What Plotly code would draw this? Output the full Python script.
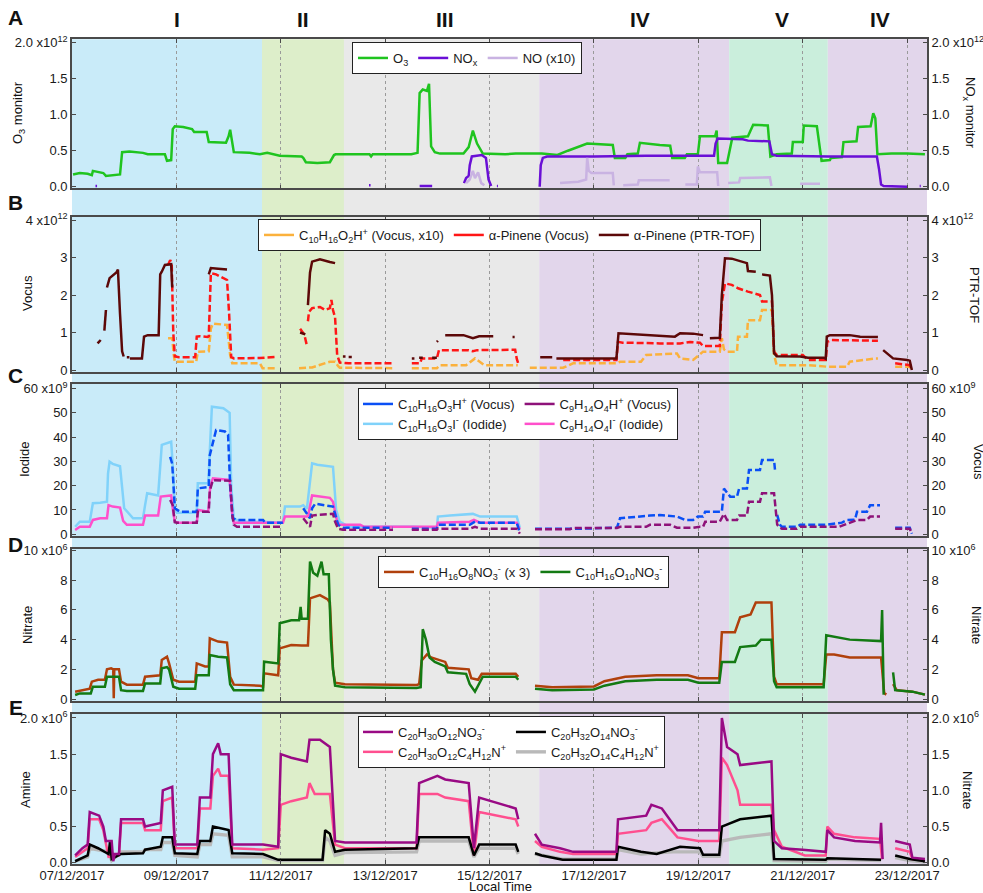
import pandas as pd
import plotly.graph_objects as go

START = pd.Timestamp("2017-12-07")
DAY_END = 16.38

# ---------------- phases (days since 07/12/2017 00:00) ----------------
phase_edges = [0.0, 3.64, 5.21, 8.95, 12.59, 14.48, 16.44]
phase_colors = ["#c9ebf9", "#ddeeca", "#e9e9e9", "#e2d6eb", "#caeedc", "#e2d6eb"]
phase_names = ["I", "II", "III", "IV", "V", "IV"]
phase_label_days = [2.01, 4.43, 7.15, 10.88, 13.60, 15.48]

# ---------------- A: ozone / NOx monitor (x10^12) ----------------
o3 = [(0.02, 0.17), (0.15, 0.19), (0.30, 0.18), (0.38, 0.16), (0.40, 0.22), (0.55, 0.20), (0.60, 0.19),
      (0.65, 0.15), (0.88, 0.16), (0.92, 0.17), (0.96, 0.48), (1.10, 0.49), (1.36, 0.47), (1.45, 0.45),
      (1.78, 0.45), (1.82, 0.36), (1.90, 0.37), (1.93, 0.80), (1.97, 0.84), (2.13, 0.83), (2.30, 0.80),
      (2.34, 0.76), (2.58, 0.76), (2.62, 0.62), (2.95, 0.61), (3.00, 0.70), (3.03, 0.79), (3.07, 0.62),
      (3.10, 0.48), (3.40, 0.47), (3.60, 0.45), (3.74, 0.47), (3.90, 0.45), (3.98, 0.43), (4.40, 0.42),
      (4.43, 0.40), (4.48, 0.34), (4.70, 0.33), (4.94, 0.34), (5.02, 0.44), (5.05, 0.45), (5.70, 0.45),
      (5.73, 0.42), (5.76, 0.45), (6.50, 0.45), (6.62, 0.47), (6.66, 1.30), (6.72, 1.35), (6.80, 1.33),
      (6.84, 1.43), (6.88, 0.56), (6.95, 0.48), (7.05, 0.46), (7.50, 0.46), (7.60, 0.55), (7.68, 0.78),
      (7.76, 0.60), (7.87, 0.46), (8.30, 0.45), (8.50, 0.46), (9.00, 0.46), (9.30, 0.44), (9.50, 0.50),
      (9.70, 0.56), (9.87, 0.60), (10.36, 0.58), (10.40, 0.40), (10.60, 0.40), (10.64, 0.45), (10.84, 0.46),
      (10.88, 0.61), (11.26, 0.58), (11.46, 0.57), (11.50, 0.40), (11.74, 0.40), (11.78, 0.45), (11.99, 0.45),
      (12.03, 0.70), (12.32, 0.70), (12.35, 0.78), (12.38, 0.33), (12.55, 0.33), (12.59, 0.46), (12.65, 0.68),
      (12.95, 0.70), (13.05, 0.86), (13.33, 0.85), (13.38, 0.42), (13.50, 0.45), (13.79, 0.46), (13.81, 0.62),
      (14.00, 0.62), (14.02, 0.85), (14.27, 0.84), (14.36, 0.36), (14.52, 0.37), (14.54, 0.40), (14.75, 0.41),
      (14.78, 0.62), (15.03, 0.63), (15.06, 0.83), (15.30, 0.84), (15.35, 1.02), (15.39, 0.95), (15.43, 0.45),
      (15.70, 0.46), (16.00, 0.46), (16.34, 0.45)]

nox = [(0.45, 0.01), (0.48, 0.01), None, (5.69, 0.02), (5.72, 0.02), None, (6.66, 0.01), (6.90, 0.01), None,
       (7.51, 0.05), (7.55, 0.12), (7.60, 0.15), (7.62, 0.30), (7.66, 0.42), (7.75, 0.43), (7.85, 0.44),
       (7.93, 0.40), (7.98, 0.10), (8.03, 0.01), None, (8.14, 0.01), (8.16, 0.01), None,
       (8.96, 0.00), (8.98, 0.30), (9.02, 0.40), (9.10, 0.42), (10.0, 0.42), (11.0, 0.43), (12.30, 0.43),
       (12.33, 0.60), (12.37, 0.67), (12.85, 0.66), (12.95, 0.64), (13.36, 0.63), (13.41, 0.45), (13.50, 0.43),
       (14.50, 0.42), (15.42, 0.42), (15.46, 0.25), (15.50, 0.03), (15.55, 0.01), (16.00, 0.00), None,
       (16.24, 0.01), (16.26, 0.01)]

no_x10 = [(7.55, 0.05), (7.62, 0.10), (7.68, 0.22), (7.72, 0.12), (7.78, 0.20), (7.84, 0.05), (7.90, 0.02), None,
          (9.35, 0.05), (9.50, 0.06), (9.70, 0.07), (9.85, 0.10), (9.87, 0.40), (9.90, 0.22), (9.95, 0.19),
          (10.36, 0.19), (10.38, 0.02), None, (10.56, 0.02), (10.84, 0.03), (10.86, 0.09), (11.26, 0.09),
          (11.45, 0.09), None, (11.75, 0.03), (11.97, 0.03), (11.99, 0.28), (12.03, 0.20), (12.36, 0.20),
          (12.38, 0.01), None, (12.57, 0.05), (12.78, 0.06), (12.80, 0.12), (13.37, 0.13), (13.40, 0.01), None,
          (13.95, 0.04), (14.33, 0.04)]

# ---------------- B: monoterpenes (x10^12) ----------------
c10h16o2 = [(1.84, 0.85), (1.92, 0.85), (1.95, 0.40), (1.97, 0.22), (2.38, 0.22), (2.41, 0.49), (2.62, 0.50),
            (2.66, 1.10), (2.70, 1.24), (2.97, 1.20), (3.03, 0.40), (3.07, 0.18), (3.60, 0.18), (3.65, 0.05),
            (3.91, 0.05), None, (4.35, 0.05), (4.60, 0.07), (4.94, 0.22), (5.04, 0.22), (5.10, 0.10),
            (5.13, 0.06), (6.15, 0.05), None, (6.51, 0.05), (6.99, 0.05), (7.05, 0.13), (7.55, 0.13),
            (7.72, 0.31), (7.90, 0.13), (8.54, 0.13), None, (8.77, 0.06), (9.41, 0.06), (9.60, 0.18),
            (10.44, 0.18), (10.50, 0.22), (10.90, 0.22), (11.00, 0.40), (11.26, 0.42), (11.59, 0.44),
            (11.65, 0.31), (11.90, 0.27), (12.09, 0.49), (12.41, 0.49), (12.45, 0.85), (12.49, 0.55),
            (12.55, 0.49), (12.74, 0.49), (12.76, 0.89), (12.93, 0.89), (12.95, 1.33), (13.18, 1.33),
            (13.22, 1.60), (13.41, 1.60), (13.45, 0.40), (13.50, 0.13), (14.10, 0.13), (14.45, 0.09),
            (14.85, 0.09), (14.90, 0.22), (15.40, 0.31), (15.44, 0.31), None, (15.77, 0.09), (16.05, 0.09),
            (16.09, 0.00)]

apinene_vocus = [(1.84, 2.80), (1.88, 2.93), (1.91, 2.85), (1.94, 1.00), (1.97, 0.36), (2.05, 0.34), (2.36, 0.34),
                 (2.39, 0.89), (2.45, 0.90), (2.60, 0.88), (2.62, 0.90), (2.64, 2.20), (2.66, 2.58), (2.76, 2.55),
                 (2.97, 2.40), (3.01, 1.50), (3.05, 0.35), (3.10, 0.31), (3.60, 0.32), (3.91, 0.35), None,
                 (4.37, 1.10), (4.45, 0.95), (4.50, 0.65), None, (4.52, 1.30), (4.54, 1.55), (4.60, 1.65),
                 (4.75, 1.68), (4.85, 1.60), (4.94, 1.65), (4.97, 1.87), (5.00, 1.60), (5.04, 1.40), (5.08, 0.40),
                 (5.13, 0.20), (5.30, 0.18), (6.15, 0.18), None, (6.51, 0.18), (6.67, 0.18), (6.70, 0.31),
                 (6.99, 0.31), (7.03, 0.53), (7.60, 0.53), (7.68, 0.50), (7.76, 0.53), (8.49, 0.54), (8.52, 0.30),
                 (8.56, 0.13), None, (9.41, 0.27), (10.43, 0.27), (10.46, 0.75), (10.55, 0.73), (11.26, 0.71),
                 (11.65, 0.71), (11.84, 0.75), (12.03, 0.73), (12.09, 0.64), (12.41, 0.64), (12.45, 1.80),
                 (12.51, 2.31), (12.64, 2.27), (12.76, 2.18), (12.95, 2.09), (13.18, 2.00), (13.22, 1.83),
                 (13.41, 1.83), (13.45, 0.49), (13.50, 0.40), (14.00, 0.40), (14.10, 0.27), (14.44, 0.27),
                 (14.47, 0.75), (14.55, 0.80), (15.44, 0.78), None, (15.77, 0.18), (16.05, 0.13), (16.09, 0.00)]

apinene_ptr = [(0.49, 0.71), (0.55, 0.80), None, (0.62, 1.05), (0.65, 1.60), None, (0.67, 2.20), (0.72, 2.45),
               (0.85, 2.60), (0.88, 2.68), (0.92, 1.50), (0.96, 0.50), (0.99, 0.36), None, (1.05, 0.34),
               (1.10, 0.34), None, (1.11, 0.31), (1.34, 0.31), (1.38, 0.89), (1.45, 0.93), (1.66, 0.93),
               (1.69, 2.55), (1.72, 2.62), (1.78, 2.80), (1.90, 2.82), (1.92, 2.20), None, (2.62, 2.55),
               (2.66, 2.72), (2.80, 2.70), (2.97, 2.68), None, (4.37, 1.00), (4.47, 0.95), None, (4.52, 1.73),
               (4.56, 2.60), (4.60, 2.89), (4.75, 2.95), (4.94, 2.88), (5.04, 2.85), None, (5.19, 0.36),
               (5.24, 0.36), None, (5.30, 0.35), (5.36, 0.35), None, (6.51, 0.31), (6.56, 0.31), None,
               (6.65, 0.33), (6.72, 0.33), None, (6.90, 0.33), (6.99, 0.33), None, (6.99, 0.75), (7.01, 0.78),
               None, (7.15, 0.93), (7.50, 0.93), (7.68, 0.85), (7.80, 0.90), (8.07, 0.90), None, (8.44, 0.88),
               (8.48, 0.88), None, (8.97, 0.34), (9.20, 0.34), None, (9.28, 0.31), (9.50, 0.31), (10.00, 0.30),
               (10.43, 0.31), (10.47, 0.98), (10.60, 0.97), (11.00, 0.93), (11.26, 0.92), (11.55, 0.89),
               (11.65, 0.98), (11.90, 0.97), (12.09, 0.93), None, (12.22, 0.85), (12.41, 0.86), (12.45, 2.00),
               (12.51, 2.98), (12.64, 2.97), (12.80, 2.90), (12.93, 2.85), (12.95, 2.64), (13.10, 2.62), None,
               (13.22, 2.55), (13.37, 2.52), (13.41, 2.00), (13.45, 0.45), (13.50, 0.37), (13.95, 0.36),
               (14.10, 0.33), (14.40, 0.33), (14.44, 0.30), (14.46, 0.89), (14.52, 0.93), (14.90, 0.93),
               (15.10, 0.89), (15.44, 0.88), None, (15.54, 0.53), (15.65, 0.40), (15.73, 0.31), (16.00, 0.27),
               (16.05, 0.25), (16.09, 0.00)]

# ---------------- C: oxidation products (x10^9) ----------------
c10h16o3_iodide = [(0.06, 3.1), (0.15, 5.2), (0.34, 5.2), (0.40, 12.8), (0.54, 13.0), (0.67, 13.4), (0.69, 25.0),
                   (0.72, 29.9), (0.78, 29.0), (0.92, 28.0), (0.98, 15.0), (1.00, 10.7), (1.17, 6.6), (1.36, 6.6),
                   (1.40, 12.0), (1.44, 16.9), (1.65, 16.0), (1.69, 28.0), (1.72, 36.8), (1.90, 38.1), (1.94, 25.0),
                   (1.97, 10.0), (2.01, 8.9), (2.39, 8.9), (2.41, 21.0), (2.61, 21.0), (2.65, 40.0), (2.68, 52.5),
                   (2.90, 51.9), (3.02, 50.0), (3.05, 20.0), (3.10, 6.6), (3.22, 5.2), (3.66, 5.2), (4.04, 4.8),
                   (4.08, 11.4), (4.37, 11.4), (4.43, 12.0), (4.50, 10.5), (4.60, 29.2), (4.70, 28.6), (4.94, 28.0),
                   (5.00, 27.8), (5.06, 10.0), (5.13, 5.2), (5.30, 3.1), (6.53, 3.1), (6.99, 2.7), (7.01, 7.3),
                   (7.24, 7.7), (7.68, 8.4), (7.82, 7.3), (8.52, 7.3), (8.58, 2.7)]

c9h14o4_iodide = [(0.06, 1.8), (0.15, 3.1), (0.34, 3.1), (0.40, 5.9), (0.54, 6.6), (0.67, 6.6), (0.70, 12.0),
                  (0.78, 11.4), (0.92, 11.0), (0.98, 5.5), (1.05, 3.9), (1.36, 3.9), (1.40, 7.7), (1.65, 7.7),
                  (1.70, 15.5), (1.90, 16.0), (1.94, 9.0), (1.97, 5.2), (2.05, 4.8), (2.39, 4.8), (2.42, 10.0),
                  (2.61, 9.3), (2.65, 20.0), (2.70, 23.0), (3.02, 22.4), (3.07, 8.0), (3.10, 4.8), (4.04, 4.8),
                  (4.08, 7.3), (4.52, 7.3), (4.60, 16.0), (4.94, 15.0), (5.00, 13.4), (5.08, 5.2), (5.13, 3.9),
                  (5.52, 3.9), (5.60, 3.1), (6.99, 3.1), (7.01, 4.8), (7.62, 5.2), (7.70, 5.9), (7.82, 4.8),
                  (8.52, 4.8), (8.58, 2.0)]

c10h16o3_vocus = [(1.88, 31.9), (1.92, 29.0), (1.97, 10.7), (2.07, 9.3), (2.39, 9.3), (2.41, 18.9), (2.62, 19.5),
                  (2.64, 32.6), (2.76, 42.9), (2.93, 42.3), (2.99, 41.0), (3.03, 20.0), (3.08, 6.6), (3.16, 5.9),
                  (3.66, 5.9), (3.70, 4.8), (4.04, 4.8), None, (4.43, 10.7), (4.56, 6.6), (4.60, 10.7),
                  (4.66, 12.6), (5.00, 11.4), (5.10, 3.9), (5.19, 2.7), (6.15, 2.7), None, (6.51, 2.3), (6.99, 2.3),
                  (7.01, 3.9), (7.62, 3.9), (7.72, 5.2), (7.82, 4.8), (8.52, 4.8), (8.58, 0.5), None,
                  (8.87, 2.3), (9.73, 2.3), (10.44, 2.7), (10.50, 6.6), (11.07, 7.7), (11.26, 7.9), (11.59, 7.3),
                  (11.74, 5.9), (11.90, 5.9), (11.99, 7.3), (12.09, 7.3), (12.13, 9.3), (12.45, 9.3),
                  (12.49, 18.8), (12.61, 15.5), (12.74, 15.5), (12.78, 18.8), (12.93, 18.8), (12.97, 26.5),
                  (13.18, 26.5), (13.22, 30.6), (13.45, 30.6), (13.47, 26.0), None, (13.51, 8.0), (13.56, 4.0),
                  (13.60, 3.1), (13.89, 3.1), (13.95, 3.9), (14.44, 3.9), (14.75, 4.8), (14.85, 5.9), (15.00, 6.0),
                  (15.04, 9.3), (15.23, 9.3), (15.29, 12.0), (15.48, 12.0), None, (15.77, 2.7), (16.05, 2.7),
                  (16.09, 0.3)]

c9h14o4_vocus = [(1.88, 14.1), (1.93, 12.0), (1.97, 5.0), (2.01, 4.8), (2.39, 4.8), (2.41, 9.3), (2.62, 9.3),
                 (2.64, 18.0), (2.70, 22.3), (3.03, 22.0), (3.07, 8.0), (3.10, 3.9), (3.16, 3.1), (4.04, 3.1), None,
                 (4.43, 6.6), (4.56, 3.1), (4.60, 7.7), (4.70, 8.0), (5.00, 8.4), (5.04, 5.2), (5.10, 2.3),
                 (5.19, 1.9), (6.15, 1.9), None, (6.51, 1.9), (6.99, 1.9), (7.01, 2.3), (7.62, 2.3), (7.72, 3.1),
                 (7.82, 2.3), (8.52, 2.3), (8.58, 0.3), None, (8.87, 2.1), (9.54, 2.1), (9.60, 2.6), (10.44, 2.6),
                 (10.50, 3.1), (11.00, 3.1), (11.07, 3.9), (11.46, 3.9), (11.59, 2.7), (11.90, 2.7), (12.03, 3.1),
                 (12.09, 3.1), (12.13, 5.2), (12.41, 5.2), (12.49, 8.4), (12.55, 5.9), (12.74, 5.9), (12.78, 7.7),
                 (12.93, 7.7), (12.97, 13.4), (13.18, 13.4), (13.22, 16.9), (13.45, 16.9), (13.51, 4.0),
                 (13.56, 2.7), (13.60, 2.3), (13.89, 2.3), (13.95, 3.1), (14.70, 3.1), (14.81, 3.9), (15.04, 5.9),
                 (15.23, 5.9), (15.29, 7.3), (15.48, 7.3), None, (15.77, 2.3), (16.05, 2.3), (16.09, 0.3)]

# ---------------- D: nitrate-CIMS monomers (x10^6) ----------------
c10h16o8_no3_x3 = [(0.06, 0.49), (0.20, 0.60), (0.34, 0.70), (0.38, 1.17), (0.50, 1.30), (0.63, 1.30), (0.67, 2.00),
                   (0.75, 2.07), (0.79, 2.00), (0.80, 0.05), (0.81, 2.00), (0.90, 2.00), (0.94, 1.17), (1.05, 0.97),
                   (1.36, 0.97), (1.40, 1.50), (1.60, 1.60), (1.69, 1.60), (1.72, 2.63), (1.82, 2.85), (1.86, 2.40),
                   (1.94, 1.30), (2.05, 1.17), (2.36, 1.17), (2.39, 2.40), (2.55, 2.20), (2.62, 2.20), (2.64, 4.09),
                   (2.80, 3.87), (2.97, 3.80), (3.03, 1.50), (3.10, 0.97), (3.60, 0.90), (3.66, 0.85), (3.68, 1.73),
                   (3.90, 1.60), (3.95, 1.60), (3.98, 3.41), (4.20, 3.64), (4.40, 3.60), (4.52, 3.60), (4.56, 6.78),
                   (4.75, 7.00), (4.90, 6.70), (4.94, 6.50), (5.00, 2.00), (5.04, 1.10), (5.23, 1.00), (6.60, 0.95),
                   (6.65, 1.00), (6.70, 2.60), (6.80, 3.00), (6.88, 2.80), (7.15, 2.50), (7.20, 2.10), (7.60, 2.00),
                   (7.65, 1.40), (7.78, 1.30), (7.85, 1.70), (8.50, 1.70), (8.55, 1.50), None, (8.87, 0.90),
                   (9.20, 0.80), (10.00, 0.85), (10.20, 1.20), (10.60, 1.50), (11.20, 1.60), (11.80, 1.60),
                   (12.00, 1.40), (12.40, 1.40), (12.45, 4.50), (12.70, 4.50), (12.80, 5.50), (13.00, 5.70),
                   (13.10, 6.50), (13.40, 6.50), (13.45, 1.50), (13.50, 1.00), (14.40, 1.00), (14.45, 3.00),
                   (14.60, 3.00), (14.90, 2.80), (15.50, 2.80), (15.56, 0.40), (15.60, 0.30), None, (15.73, 1.00),
                   (15.80, 0.60), (16.10, 0.50), (16.34, 0.30)]

c10h16o10_no3 = [(0.06, 0.27), (0.15, 0.38), (0.36, 0.38), (0.40, 0.83), (0.63, 0.83), (0.67, 1.50), (0.90, 1.50),
                 (0.94, 0.60), (1.05, 0.55), (1.36, 0.55), (1.40, 1.05), (1.69, 1.05), (1.72, 2.07), (1.82, 2.15),
                 (1.86, 2.00), (1.94, 0.83), (2.05, 0.70), (2.36, 0.70), (2.39, 1.60), (2.62, 1.60), (2.64, 2.96),
                 (2.80, 2.85), (2.97, 2.80), (3.03, 1.00), (3.10, 0.60), (3.66, 0.60), (3.68, 2.51), (3.95, 2.40),
                 (3.98, 5.10), (4.20, 5.30), (4.35, 5.30), (4.38, 6.20), (4.40, 5.40), (4.52, 5.40), (4.56, 9.25),
                 (4.62, 8.50), (4.70, 8.30), (4.78, 9.25), (4.82, 8.40), (4.92, 8.40), (4.96, 4.00), (5.00, 2.00),
                 (5.04, 0.90), (5.23, 0.80), (6.60, 0.75), (6.68, 0.80), (6.72, 4.70), (6.78, 4.00), (6.85, 2.80),
                 (6.95, 2.50), (7.15, 2.20), (7.20, 1.80), (7.55, 1.70), (7.62, 1.00), (7.72, 0.50), (7.80, 1.00),
                 (7.87, 1.50), (8.50, 1.50), (8.55, 1.30), None, (8.87, 0.70), (9.20, 0.60), (10.00, 0.65),
                 (10.20, 0.90), (10.60, 1.20), (11.20, 1.30), (11.80, 1.30), (12.00, 1.10), (12.40, 1.10),
                 (12.45, 2.50), (12.70, 2.50), (12.80, 3.50), (13.10, 3.60), (13.20, 4.00), (13.40, 4.00),
                 (13.45, 1.20), (13.50, 0.80), (14.40, 0.80), (14.45, 4.30), (14.60, 4.20), (14.90, 4.00),
                 (15.50, 3.90), (15.52, 6.00), (15.55, 0.30), None, (15.73, 1.80), (15.77, 0.60), (16.10, 0.50),
                 (16.34, 0.30)]

# ---------------- E: dimers, nitrate and amine CIMS (x10^6) ----------------
c20h30o12_no3 = [(0.06, 0.10), (0.20, 0.20), (0.30, 0.25), (0.34, 0.70), (0.52, 0.65), (0.60, 0.50), (0.65, 0.30),
                 (0.76, 0.30), (0.79, 0.02), (0.82, 0.12), (0.90, 0.12), (0.94, 0.60), (1.36, 0.60), (1.40, 0.50),
                 (1.70, 0.55), (1.74, 1.00), (1.92, 1.05), (1.97, 0.25), (2.40, 0.25), (2.45, 0.90), (2.65, 0.90),
                 (2.70, 1.50), (2.80, 1.65), (2.85, 1.50), (3.00, 1.50), (3.07, 0.25), (3.66, 0.25), (3.95, 0.22),
                 (4.00, 1.50), (4.20, 1.45), (4.50, 1.40), (4.55, 1.70), (4.75, 1.70), (4.94, 1.60), (5.04, 0.30),
                 (5.23, 0.28), (6.60, 0.28), (6.65, 1.10), (7.00, 1.20), (7.15, 1.15), (7.60, 1.10), (7.70, 0.20),
                 (7.80, 0.90), (8.50, 0.75), (8.55, 0.60), None, (8.87, 0.40), (9.00, 0.25), (9.35, 0.20),
                 (9.60, 0.15), (10.43, 0.15), (10.46, 0.60), (11.00, 0.65), (11.10, 0.80), (11.30, 0.75),
                 (11.60, 0.45), (12.40, 0.45), (12.45, 2.00), (12.55, 1.60), (12.75, 1.50), (12.80, 1.35),
                 (13.40, 1.40), (13.45, 0.30), (13.60, 0.20), (14.00, 0.18), (14.44, 0.15), (14.47, 0.45),
                 (14.60, 0.35), (15.00, 0.30), (15.48, 0.28), (15.50, 0.55), (15.53, 0.05), None, (15.77, 0.30),
                 (16.05, 0.25), (16.10, 0.07), (16.34, 0.05)]

c20h30o12_amine = [(0.06, 0.08), (0.20, 0.15), (0.30, 0.20), (0.34, 0.60), (0.52, 0.60), (0.60, 0.45), (0.65, 0.25),
                   (0.70, 0.08), (0.90, 0.10), (0.94, 0.55), (1.36, 0.55), (1.40, 0.45), (1.70, 0.45), (1.74, 0.85),
                   (1.92, 0.90), (1.97, 0.20), (2.40, 0.20), (2.45, 0.75), (2.65, 0.75), (2.70, 1.20), (2.80, 1.30),
                   (2.85, 1.20), (3.00, 1.20), (3.07, 0.20), (3.66, 0.18), (3.95, 0.20), (4.00, 0.80), (4.20, 0.85),
                   (4.50, 0.90), (4.55, 1.10), (4.65, 0.95), (4.94, 0.95), (5.04, 0.25), (5.23, 0.20), (6.60, 0.20),
                   (6.65, 0.95), (7.00, 0.95), (7.15, 0.90), (7.60, 0.85), (7.70, 0.10), (7.80, 0.70), (8.50, 0.60),
                   (8.55, 0.50), None, (8.87, 0.30), (9.00, 0.22), (9.35, 0.15), (9.60, 0.12), (10.43, 0.12),
                   (10.46, 0.40), (11.00, 0.45), (11.10, 0.55), (11.30, 0.60), (11.60, 0.35), (12.00, 0.30),
                   (12.40, 0.30), (12.45, 1.45), (12.55, 1.35), (12.75, 1.00), (12.80, 0.80), (13.40, 0.80),
                   (13.45, 0.45), (13.60, 0.22), (14.04, 0.10), (14.44, 0.10), (14.47, 0.50), (14.60, 0.40),
                   (15.00, 0.35), (15.48, 0.33), (15.52, 0.05), None, (15.77, 0.20), (16.05, 0.15), (16.10, 0.05),
                   (16.34, 0.03)]

c20h32o14_no3 = [(0.06, 0.02), (0.30, 0.10), (0.34, 0.25), (0.50, 0.20), (0.70, 0.12), (0.73, 0.30), (0.76, 0.05),
                 (0.94, 0.12), (1.36, 0.13), (1.40, 0.18), (1.70, 0.22), (1.74, 0.35), (1.92, 0.35), (1.97, 0.13),
                 (2.40, 0.12), (2.45, 0.30), (2.65, 0.30), (2.70, 0.50), (3.00, 0.45), (3.07, 0.13), (3.66, 0.12),
                 (3.95, 0.04), (4.80, 0.04), (4.85, 0.45), (4.94, 0.40), (5.04, 0.15), (5.23, 0.18), (6.60, 0.20),
                 (6.65, 0.35), (7.60, 0.35), (7.70, 0.10), (7.80, 0.25), (8.50, 0.25), (8.55, 0.15), None,
                 (8.87, 0.13), (9.00, 0.10), (9.40, 0.04), (10.43, 0.04), (10.46, 0.22), (10.90, 0.15),
                 (11.20, 0.12), (11.50, 0.18), (11.65, 0.22), (12.03, 0.20), (12.09, 0.11), (12.40, 0.11),
                 (12.45, 0.50), (12.80, 0.60), (13.40, 0.65), (13.45, 0.05), (14.44, 0.04), (14.47, 0.06),
                 (15.50, 0.04), None, (15.77, 0.10), (16.05, 0.05), (16.34, 0.02)]

c20h32o14_amine = [(0.06, 0.02), (0.30, 0.08), (0.34, 0.20), (0.50, 0.18), (0.70, 0.15), (0.76, 0.03), (0.94, 0.15),
                   (1.36, 0.15), (1.40, 0.18), (1.70, 0.18), (1.74, 0.28), (1.92, 0.28), (1.97, 0.10), (2.40, 0.08),
                   (2.45, 0.25), (2.65, 0.25), (2.70, 0.40), (3.00, 0.38), (3.07, 0.08), (3.66, 0.08), (3.95, 0.03),
                   (4.80, 0.03), (4.85, 0.35), (4.94, 0.30), (5.04, 0.10), (5.23, 0.14), (6.60, 0.15), (6.65, 0.30),
                   (7.60, 0.30), (7.70, 0.08), (7.80, 0.20), (8.50, 0.20), (8.55, 0.12), None, (8.87, 0.12),
                   (9.40, 0.05), (10.43, 0.05), (10.46, 0.18), (10.90, 0.12), (11.50, 0.15), (12.03, 0.15),
                   (12.09, 0.09), (12.40, 0.09), (12.45, 0.30), (12.80, 0.35), (13.40, 0.40), (13.45, 0.03),
                   (14.44, 0.02), (14.47, 0.05), (15.50, 0.03), None, (15.77, 0.07), (16.05, 0.03), (16.34, 0.01)]

# ---------------- axis tick labels ----------------
ticks_A = ([0, 0.5, 1.0, 1.5, 2.0], ["0.0", "0.5", "1.0", "1.5", "2.0 x10<sup>12</sup>"])
ticks_B = ([0, 1, 2, 3, 4], ["0", "1", "2", "3", "4 x10<sup>12</sup>"])
ticks_C = ([0, 10, 20, 30, 40, 50, 60], ["0", "10", "20", "30", "40", "50", "60 x10<sup>9</sup>"])
ticks_D = ([0, 2, 4, 6, 8, 10], ["0", "2", "4", "6", "8", "10 x10<sup>6</sup>"])
ticks_E = ([0, 0.5, 1.0, 1.5, 2.0], ["0.0", "0.5", "1.0", "1.5", "2.0 x10<sup>6</sup>"])

# ---------------- figure geometry ----------------
W, H = 983, 893
ML, MR = 72, 56
PW = W - ML - MR
FONT = "Liberation Sans, Arial, Helvetica, sans-serif"


def py(p):
    return 1 - p / H


def px(p):
    return (p - ML) / PW


def when(d):
    return START + pd.Timedelta(days=d)


def xy(pairs):
    xs, ys = [], []
    for p in pairs:
        if p is None:
            xs.append(None)
            ys.append(None)
        else:
            xs.append(when(p[0]))
            ys.append(p[1])
    return xs, ys


panels = [  # (pixel top, pixel bottom, y-range, ticks)
    (39.3, 188.3, [-0.022, 2.047], ticks_A),
    (217.3, 371.7, [-0.045, 4.072], ticks_B),
    (384.0, 535.7, [-0.58, 61.85], ticks_C),
    (549.0, 700.7, [-0.11, 10.1], ticks_D),
    (714.0, 864.0, [-0.018, 2.055], ticks_E),
]

fig = go.Figure()
LW = 2.5
DASH = "7px,3px"


def axes_for(row, right):
    yax = "y%d" % (row + 5 if right else row)
    if yax == "y1":
        yax = "y"
    xax = "x" if row == 1 else "x%d" % row
    return xax, yax


def add(pairs, name, color, row, right, legend, width=LW, dash=None, group=None, rank=1000):
    xs, ys = xy(pairs)
    xax, yax = axes_for(row, right)
    # the series itself (dashes come from the sampling gaps, so the key uses a plain line)
    fig.add_trace(go.Scatter(
        x=xs, y=ys, mode="lines", name=name, connectgaps=False, showlegend=dash is None,
        line=dict(color=color, width=width, dash=dash),
        xaxis=xax, yaxis=yax, legend=legend, legendgroup=group, legendrank=rank,
    ))
    if dash is not None:
        fig.add_trace(go.Scatter(
            x=[None], y=[None], mode="lines", name=name, showlegend=True,
            line=dict(color=color, width=width), xaxis=xax, yaxis=yax,
            legend=legend, legendgroup=group, legendrank=rank, hoverinfo="skip",
        ))


# A
add(o3, "O<sub>3</sub>", "#1fc41f", 1, False, "legend", rank=1)
add(nox, "NO<sub>x</sub>", "#6a0fd6", 1, True, "legend", rank=2)
add(no_x10, "NO (x10)", "#c9b3e2", 1, True, "legend", rank=3)
# B
add(c10h16o2, "C<sub>10</sub>H<sub>16</sub>O<sub>2</sub>H<sup>+</sup> (Vocus, x10)", "#fbb13c", 2, False,
    "legend2", dash=DASH, rank=1)
add(apinene_vocus, "\u03b1-Pinene (Vocus)", "#ff1616", 2, False, "legend2", dash=DASH, rank=2)
add(apinene_ptr, "\u03b1-Pinene (PTR-TOF)", "#5c0808", 2, True, "legend2", rank=3)
# C
add(c10h16o3_iodide, "C<sub>10</sub>H<sub>16</sub>O<sub>3</sub>I<sup>-</sup> (Iodide)", "#80d2fa", 3, False,
    "legend3", group="c1", rank=2)
add(c9h14o4_iodide, "C<sub>9</sub>H<sub>14</sub>O<sub>4</sub>I<sup>-</sup> (Iodide)", "#ff4fcb", 3, False,
    "legend3", group="c2", rank=4)
add(c10h16o3_vocus, "C<sub>10</sub>H<sub>16</sub>O<sub>3</sub>H<sup>+</sup> (Vocus)", "#0a4ff5", 3, True,
    "legend3", dash=DASH, group="c1", rank=1)
add(c9h14o4_vocus, "C<sub>9</sub>H<sub>14</sub>O<sub>4</sub>H<sup>+</sup> (Vocus)", "#8e1279", 3, True,
    "legend3", dash=DASH, group="c2", rank=3)
# D
add(c10h16o8_no3_x3, "C<sub>10</sub>H<sub>16</sub>O<sub>8</sub>NO<sub>3</sub><sup>-</sup> (x 3)", "#b0400c", 4,
    False, "legend4", rank=1)
add(c10h16o10_no3, "C<sub>10</sub>H<sub>16</sub>O<sub>10</sub>NO<sub>3</sub><sup>-</sup>", "#137a13", 4, True,
    "legend4", rank=2)
# E
add(c20h32o14_amine, "C<sub>20</sub>H<sub>32</sub>O<sub>14</sub>C<sub>4</sub>H<sub>12</sub>N<sup>+</sup>",
    "#b9b9b9", 5, False, "legend5", width=3.4, group="e2", rank=4)
add(c20h32o14_no3, "C<sub>20</sub>H<sub>32</sub>O<sub>14</sub>NO<sub>3</sub><sup>-</sup>", "#000000", 5, True,
    "legend5", group="e2", rank=3)
add(c20h30o12_no3, "C<sub>20</sub>H<sub>30</sub>O<sub>12</sub>NO<sub>3</sub><sup>-</sup>", "#990a84", 5, True,
    "legend5", group="e1", rank=1)
add(c20h30o12_amine, "C<sub>20</sub>H<sub>30</sub>O<sub>12</sub>C<sub>4</sub>H<sub>12</sub>N<sup>+</sup>",
    "#ff4f8f", 5, False, "legend5", group="e1", rank=2)

LINE = "#4a4a4a"
layout = dict(
    width=W, height=H, margin=dict(l=ML, r=MR, t=0, b=0),
    paper_bgcolor="white", plot_bgcolor="rgba(0,0,0,0)",
    font=dict(family=FONT, size=13, color="#1a1a1a"),
    showlegend=True,
)

for i, (top, bot, rng, (tv, tt)) in enumerate(panels, start=1):
    sfx = "" if i == 1 else str(i)
    layout["xaxis" + sfx] = dict(
        domain=[0, 1], anchor="y" + sfx, type="date",
        range=[when(0), when(DAY_END)],
        tick0=START, dtick=2 * 86400000, tickformat="%d/%m/%Y",
        showgrid=True, gridcolor="#9a9a9a", griddash="dot", gridwidth=1,
        ticks="inside", ticklen=4, tickcolor=LINE, showline=True, linecolor=LINE, linewidth=1.6,
        mirror="ticks", zeroline=False, showticklabels=(i == 5), automargin=False,
        tickfont=dict(size=13), matches=None if i == 1 else "x", ticklabelstandoff=-1,
    )
    common = dict(
        domain=[py(bot), py(top)], range=rng, tickmode="array", tickvals=tv, ticktext=tt,
        ticks="inside", ticklen=4, tickcolor=LINE, showline=True, linecolor=LINE, linewidth=1.6,
        showgrid=False, zeroline=False, automargin=False, tickfont=dict(size=13),
    )
    layout["yaxis" + sfx] = dict(anchor="x" + sfx, side="left", **common)
    layout["yaxis%d" % (i + 5)] = dict(anchor="x" + sfx, side="right", overlaying="y" + sfx, **common)

legend_common = dict(
    xanchor="left", yanchor="top", orientation="h", bgcolor="white",
    bordercolor="#222222", borderwidth=1, font=dict(size=13, family=FONT), itemwidth=30,
    traceorder="normal",
)
layout["legend"] = dict(x=px(352), y=py(42), **legend_common)
layout["legend2"] = dict(x=px(258), y=py(219), **legend_common)
layout["legend3"] = dict(x=px(358), y=py(388), **{**legend_common, "traceorder": "grouped"})
layout["legend4"] = dict(x=px(378), y=py(556), **legend_common)
layout["legend5"] = dict(x=px(358), y=py(716), **{**legend_common, "traceorder": "grouped"})

# phase shading across all panels
shapes = []
for k in range(len(phase_names)):
    shapes.append(dict(
        type="rect", xref="x", yref="paper", x0=when(phase_edges[k]), x1=when(phase_edges[k + 1]),
        y0=py(866), y1=py(39.3), fillcolor=phase_colors[k], line=dict(width=0), layer="below",
    ))
layout["shapes"] = shapes


def label(text, x, y, xref="paper", size=13, angle=0):
    return dict(text=text, x=x, y=y, xref=xref, yref="paper", xanchor="center", yanchor="middle",
                textangle=angle, showarrow=False, font=dict(size=size, color="#111"))


ann = []
for name, d in zip(phase_names, phase_label_days):
    ann.append(label("<b>%s</b>" % name, when(d), py(20), xref="x", size=21))
for letter, ypix in zip("ABCDE", [18, 203, 375, 544, 707]):
    ann.append(label("<b>%s</b>" % letter, px(16), py(ypix), size=21))
left_titles = [("O<sub>3</sub> monitor", 18, 113), ("Vocus", 27, 293), ("Iodide", 24, 460),
               ("Nitrate", 27, 625), ("Amine", 25, 790)]
for text, xp, yp in left_titles:
    ann.append(label(text, px(xp), py(yp), angle=-90))
right_titles = [("NO<sub>x</sub> monitor", 970, 113), ("PTR-TOF", 974, 295), ("Vocus", 979, 462),
                ("Nitrate", 977, 625), ("Nitrate", 968, 790)]
for text, xp, yp in right_titles:
    ann.append(label(text, px(xp), py(yp), angle=90))
ann.append(label("Local Time", px(500), py(886)))
layout["annotations"] = ann

fig.update_layout(**layout)
fig.write_html("out.html")
